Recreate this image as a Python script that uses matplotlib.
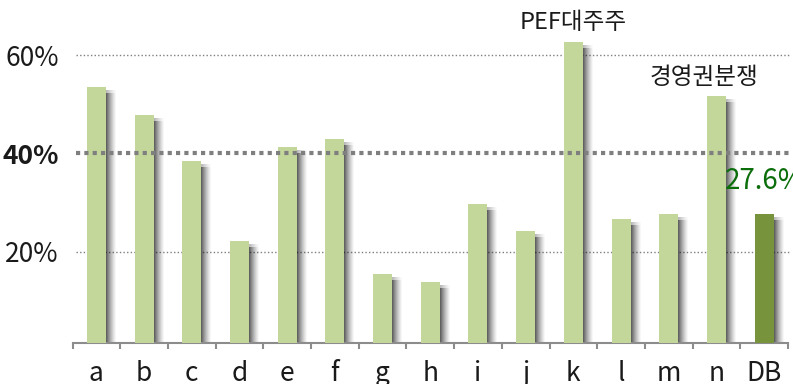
import numpy as np
import matplotlib
matplotlib.use('Agg')
import matplotlib.pyplot as plt

plt.rcParams['font.family'] = ['Noto Sans CJK KR', 'DejaVu Sans']

# ==============Chart data============
categories = ['a', 'b', 'c', 'd', 'e', 'f', 'g', 'h', 'i', 'j', 'k', 'l', 'm', 'n', 'DB']
values = [53.6, 47.8, 38.5, 22.1, 41.3, 42.9, 15.5, 13.8, 29.6, 24.2, 62.6, 26.6, 27.7, 51.7, 27.6]
yticks = [20, 40, 60]
ytickLabels = ['20%', '40%', '60%']
notes = {10: 'PEF대주주', 13: '경영권분쟁'}
highlight = 'DB'
#=====================================

lightGreen = '#c4d79b'
darkGreen = '#77933c'
gridGrey = '#7f7f7f'
axisGrey = '#8c8c8c'

fig = plt.figure(figsize=(7.93, 3.84), dpi=100)
ax = fig.add_axes([72.5/793, (384-342.7)/384, (788-72.5)/793, 342.7/384])

x = np.arange(len(categories))
barWidth = 0.4
pxX = 1/47.7          # one pixel in data units along x
pxY = 1/4.917         # one pixel in data units along y
ymin, ymax = 1.48, 71.2

# soft shadow on the right of each bar (gradient made of thin strips)
for i, v in enumerate(values):
    right = x[i] + barWidth/2
    for k in range(10):
        a = 0.62*(1 - k/10)**1.3
        ax.bar(right + k*pxX, v - 6*pxY - ymin, width=pxX, bottom=ymin, align='edge',
               color='black', alpha=a, linewidth=0, zorder=2)
        # faded top of the shadow
        ax.bar(right + k*pxX, 3*pxY, width=pxX, bottom=v - 6*pxY, align='edge',
               color='black', alpha=a*0.45, linewidth=0, zorder=2)

colors = [darkGreen if c == highlight else lightGreen for c in categories]
ax.bar(x, np.array(values) - ymin, bottom=ymin, width=barWidth, color=colors,
       linewidth=0, zorder=3)

# grid lines
ax.axhline(60, xmin=0.005, xmax=1.003, color=gridGrey, lw=1.0, ls=(0, (1, 1.6)), zorder=1, clip_on=False)
ax.axhline(20, xmin=0.005, xmax=1.003, color=gridGrey, lw=1.0, ls=(0, (1, 1.6)), zorder=1, clip_on=False)
ax.axhline(40, xmin=0.005, xmax=1.003, color=gridGrey, lw=3.0, ls=(0, (1, 1)), zorder=4, clip_on=False)

ax.set_xlim(-0.5, len(categories) - 0.5)
ax.set_ylim(ymin, ymax)

for s in ['top', 'right', 'left']:
    ax.spines[s].set_visible(False)
ax.spines['bottom'].set_color(axisGrey)
ax.spines['bottom'].set_linewidth(1.5)

ax.set_xticks(x)
ax.set_xticklabels(categories, fontsize=19, color='#1a1a1a')
ax.set_xticks(np.arange(len(categories) + 1) - 0.5, minor=True)
ax.tick_params(axis='x', which='major', length=0, pad=12.5)
ax.tick_params(axis='x', which='minor', length=4.5, width=1.5, color=axisGrey, direction='out')

ax.set_yticks(yticks)
ax.set_yticklabels(ytickLabels, fontsize=19, color='#1a1a1a')
ax.tick_params(axis='y', length=0, pad=10)
for lab in ax.get_yticklabels():
    if lab.get_text() == '40%':
        lab.set_fontweight('bold')

ax.text(10, 66.6, notes[10], ha='center', va='center', fontsize=17, color='#1a1a1a')
ax.text(12.74, 55.5, notes[13], ha='center', va='center', fontsize=17, color='#1a1a1a')
ax.text(14, 34.4, f'{values[-1]}%', ha='center', va='center', fontsize=20, color='#0b6e0b', zorder=5)

fig.savefig('out.png', dpi=100)
